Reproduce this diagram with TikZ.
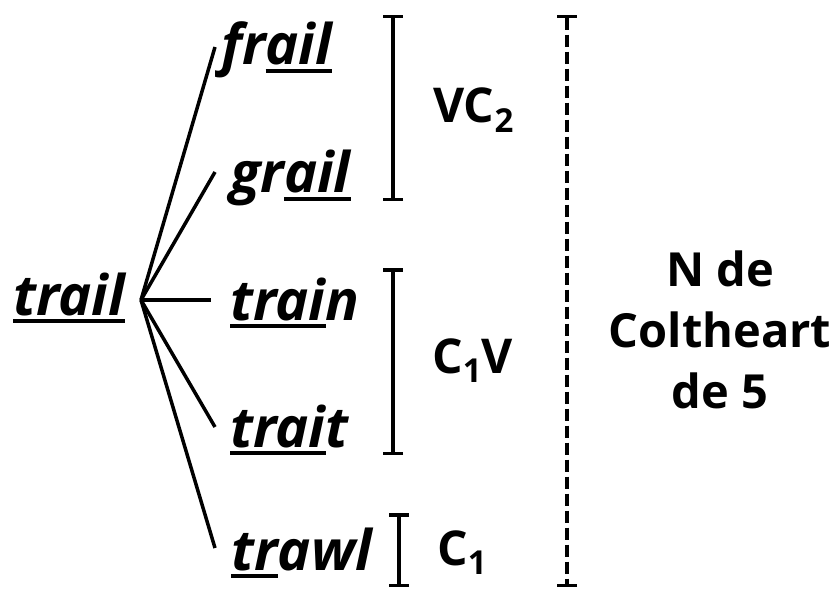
\documentclass[tikz,border=0pt]{standalone}
\usepackage{fontspec}
\setmainfont{Open Sans}
\usetikzlibrary{arrows.meta}

\newcommand{\ulw}[1]{\setbox0\hbox{#1}\rlap{\rule[-0.14em]{\wd0}{0.07em}}\box0}
\newcommand{\sbs}[1]{\raisebox{-0.19em}{\fontsize{33}{33}\selectfont #1}}

\tikzset{
  word/.style={anchor=base west, inner sep=0pt, font=\fontsize{56}{64}\selectfont\bfseries\itshape},
  lab/.style={anchor=base west, inner sep=0pt, font=\fontsize{48}{56}\selectfont\bfseries},
  stem/.style={line width=3.5pt},
  span/.style={line width=3.5pt, {Bar[width=20pt]}-{Bar[width=20pt]}}
}

\begin{document}
\begin{tikzpicture}[x=1pt,y=-1pt]
        \useasboundingbox (0,0) rectangle (838,591);
        \node[word] (trail) at (13,315) {\ulw{trail}};
        \node[word] (frail) at (221,65) {fr\ulw{ail}};
        \node[word] (grail) at (230,193) {gr\ulw{ail}};
        \node[word] (train) at (230,320) {\ulw{trai}n};
        \node[word] (trait) at (230,447) {\ulw{trai}t};
        \node[word] (trawl) at (231,570) {\ulw{tr}awl};
        \coordinate (root) at (141,300);
        \foreach \w/\dx/\dy in {frail/-6/-18,grail/-15/-21,train/-19/-20,trait/-15/-20,trawl/-16/-22}
            \draw[stem] (root) -- ([shift={(\dx,\dy)}]\w.base west);
        \draw[span] (393,15) -- (393,201);
        \draw[span] (393,268) -- (393,455);
        \draw[span] (399,513) -- (399,587);
        \draw[span,dash pattern=on 12pt off 5pt] (567,15) -- (567,587);
        \node[lab] (vc) at (433,123) {VC\sbs{2}};
        \node[lab] (cv) at (432,373) {C\sbs{1}V};
        \node[lab] (c) at (437,565) {C\sbs{1}};
        \node[align=center, inner sep=0pt, font=\fontsize{47}{61}\selectfont\bfseries] (n) at (720,330) {N de\\Coltheart\\de 5};
    \end{tikzpicture}
\end{document}
